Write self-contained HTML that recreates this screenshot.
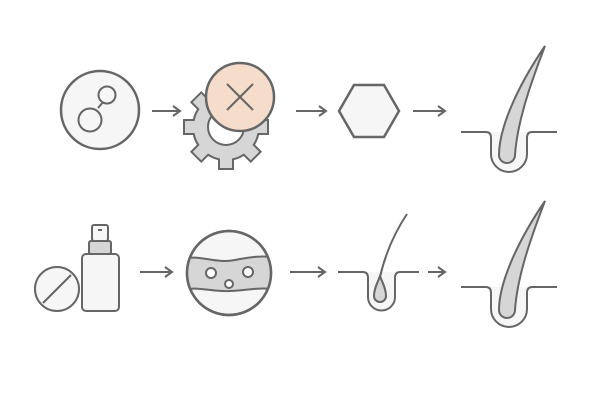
<!DOCTYPE html>
<html><head><style>html,body{margin:0;padding:0;background:#fff}</style></head><body>
<svg width="600" height="400" viewBox="0 0 600 400" xmlns="http://www.w3.org/2000/svg">
<defs>
<marker id="ah" markerWidth="10" markerHeight="12" refX="8" refY="6" orient="auto" markerUnits="userSpaceOnUse">
<path d="M1,1 L8,6 L1,11" fill="none" stroke="#666" stroke-width="2"/></marker>
<clipPath id="cc"><circle cx="229" cy="273" r="41"/></clipPath>
<g id="gearShapes">
<circle cx="0" cy="0" r="32"/>
<rect x="-6" y="-41" width="12" height="14" transform="rotate(0)"/>
<rect x="-6" y="-41" width="12" height="14" transform="rotate(45)"/>
<rect x="-6" y="-41" width="12" height="14" transform="rotate(90)"/>
<rect x="-6" y="-41" width="12" height="14" transform="rotate(135)"/>
<rect x="-6" y="-41" width="12" height="14" transform="rotate(180)"/>
<rect x="-6" y="-41" width="12" height="14" transform="rotate(225)"/>
<rect x="-6" y="-41" width="12" height="14" transform="rotate(270)"/>
<rect x="-6" y="-41" width="12" height="14" transform="rotate(315)"/>
</g>
<g id="bigHair">
<path d="M461,132 H486 Q491,132 491,138 V154 A18,18 0 0 0 527,154 V138 Q527,132 532,132 H557" fill="#f6f6f6"/>
<path d="M499,155 C499,130 515,90 545,46 C528,90 517,125 515,155 A8,8 0 0 1 499,155 Z" fill="#d6d6d6"/>
</g>
</defs>
<g stroke="#666" stroke-width="2" fill="none">
<circle cx="100" cy="110" r="39" fill="#f6f6f6" stroke-width="2.5"/>
<line x1="98" y1="108" x2="104" y2="101"/>
<circle cx="107" cy="95" r="8.5" fill="#f6f6f6"/>
<circle cx="90" cy="120" r="11.5" fill="#f6f6f6"/>
<line x1="152" y1="111" x2="180" y2="111" marker-end="url(#ah)"/>
<g transform="translate(226,127)">
<use href="#gearShapes" stroke="#666" stroke-width="4" fill="#d6d6d6"/>
<use href="#gearShapes" stroke="none" fill="#d6d6d6"/>
<circle cx="0" cy="0" r="18" fill="#fff"/>
</g>
<circle cx="240" cy="97" r="34" fill="#f5dccb" stroke-width="2.5"/>
<line x1="227" y1="84" x2="253" y2="110"/><line x1="253" y1="84" x2="227" y2="110"/>
<line x1="296" y1="111" x2="326" y2="111" marker-end="url(#ah)"/>
<polygon points="339,111 354,85 384,85 399,111 384,137 354,137" fill="#f6f6f6" stroke-width="2.5"/>
<line x1="413" y1="111" x2="445" y2="111" marker-end="url(#ah)"/>
<use href="#bigHair"/>
<circle cx="57" cy="289" r="22" fill="#f6f6f6"/>
<line x1="43" y1="303" x2="71" y2="275"/>
<rect x="92" y="225" width="16" height="16" rx="2" fill="#f6f6f6"/>
<line x1="98" y1="230" x2="102" y2="230"/>
<rect x="89" y="241" width="22" height="13" rx="2" fill="#d6d6d6"/>
<rect x="82" y="254" width="37" height="57" rx="4" fill="#f6f6f6"/>
<line x1="140" y1="272" x2="172" y2="272" marker-end="url(#ah)"/>
<circle cx="229" cy="273" r="42" fill="#f6f6f6" stroke-width="2.5"/>
<path clip-path="url(#cc)" d="M180,259 C200,254 215,264 235,260 C250,257 262,255 280,258 V291 C265,286 250,290 230,291 C210,292 200,286 180,290 Z" fill="#d6d6d6"/>
<circle cx="229" cy="273" r="42" fill="none" stroke-width="2.5"/>
<circle cx="211" cy="273" r="5" fill="#fff"/>
<circle cx="248" cy="272" r="5" fill="#fff"/>
<circle cx="229" cy="284" r="4" fill="#fff"/>
<line x1="290" y1="272" x2="325" y2="272" marker-end="url(#ah)"/>
<path d="M338,272 H363 Q368,272 368,278 V297 A13.5,13.5 0 0 0 395,297 V278 Q395,272 400,272 H419" fill="#f6f6f6"/>
<path d="M374,296 C374,288 378,282 380,276 C382,282 386,288 386,296 A6,6 0 0 1 374,296 Z" fill="#d6d6d6"/>
<path d="M380,277 C385,255 393,235 407,214"/>
<line x1="428" y1="272" x2="445" y2="272" marker-end="url(#ah)"/>
<use href="#bigHair" transform="translate(0,155)"/>
</g>
</svg>
</body></html>
